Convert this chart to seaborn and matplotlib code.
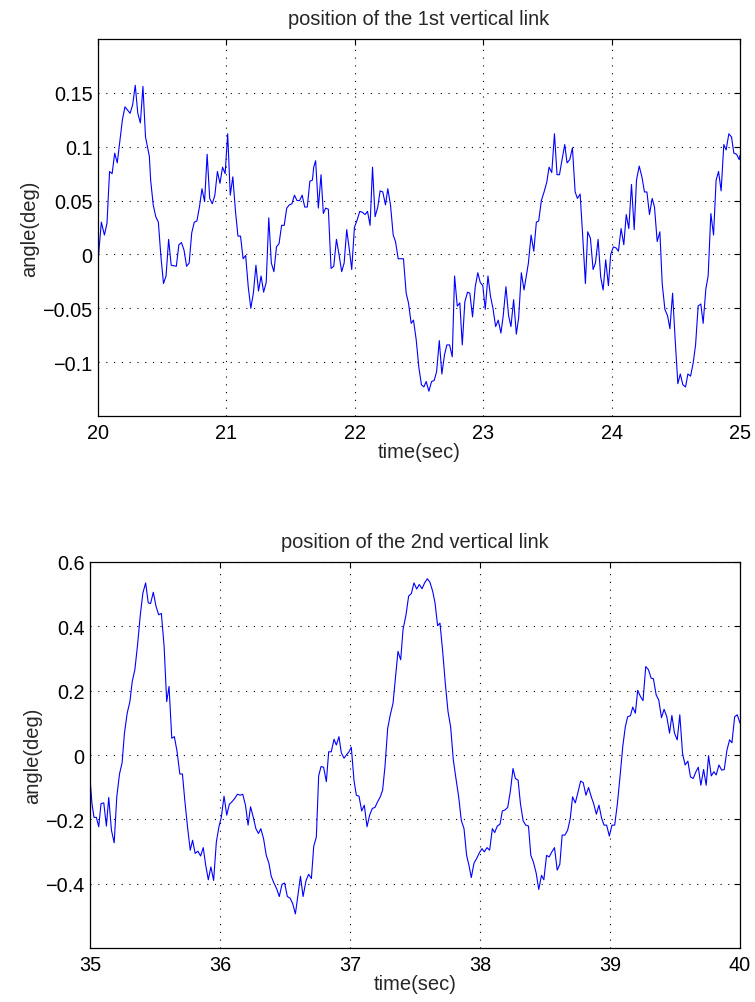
import numpy as np
import pandas as pd
import matplotlib
matplotlib.use("Agg")
import matplotlib.pyplot as plt
import seaborn as sns

# ---- data: link 1 (time in sec, angle) ----
t1 = [20.0, 20.026, 20.05, 20.07, 20.09, 20.11, 20.13, 20.15, 20.17, 20.19, 20.21, 20.25, 20.27, 20.29,
      20.31, 20.33, 20.35, 20.37, 20.40, 20.41, 20.43, 20.45, 20.47, 20.49, 20.51, 20.53, 20.55, 20.57,
      20.61, 20.63, 20.65, 20.67, 20.69, 20.71, 20.73, 20.75, 20.77, 20.79, 20.81, 20.83, 20.85, 20.87,
      20.89, 20.91, 20.93, 20.95, 20.97, 20.99, 21.01, 21.03, 21.05, 21.07, 21.09, 21.11, 21.13, 21.15,
      21.17, 21.19, 21.21, 21.23, 21.25, 21.27, 21.29, 21.31, 21.33, 21.35, 21.37, 21.39, 21.41, 21.43,
      21.45, 21.47, 21.49, 21.51, 21.53, 21.55, 21.57, 21.59, 21.61, 21.63, 21.65, 21.67, 21.68,
      21.695, 21.716, 21.737, 21.755, 21.773, 21.794, 21.815, 21.836, 21.857, 21.877, 21.898, 21.917,
      21.937, 21.958, 21.976, 21.997, 22.018, 22.039, 22.060, 22.080, 22.099, 22.119, 22.138, 22.158,
      22.179, 22.197, 22.218, 22.239, 22.257, 22.278, 22.299, 22.317, 22.338, 22.359, 22.379, 22.400,
      22.418, 22.439, 22.457, 22.478, 22.499, 22.519, 22.538, 22.556, 22.577, 22.598, 22.618, 22.637,
      22.658, 22.678, 22.699, 22.717, 22.738, 22.759, 22.777, 22.798, 22.818, 22.837, 22.857, 22.878,
      22.896, 22.917, 22.938, 22.958, 22.977, 22.997, 23.016, 23.037, 23.057, 23.076, 23.097, 23.117,
      23.138, 23.156, 23.177, 23.198, 23.216, 23.237, 23.258, 23.276, 23.297, 23.318,
      23.352, 23.373, 23.394, 23.414, 23.432, 23.453, 23.474, 23.495, 23.513, 23.534, 23.555, 23.575,
      23.594, 23.614, 23.635, 23.653, 23.674, 23.695, 23.716, 23.734, 23.755, 23.775, 23.796, 23.814,
      23.835, 23.856, 23.874, 23.895, 23.915, 23.934, 23.954, 23.975, 23.993, 24.014, 24.035, 24.053,
      24.074, 24.095, 24.114, 24.134, 24.155, 24.176, 24.194, 24.215, 24.236, 24.256, 24.275, 24.295,
      24.316, 24.334, 24.355, 24.376, 24.394, 24.415, 24.436, 24.454, 24.475, 24.495, 24.516, 24.535,
      24.555, 24.576, 24.594, 24.615, 24.635, 24.654, 24.674, 24.695, 24.713, 24.734, 24.752, 24.773,
      24.794, 24.814, 24.833, 24.853, 24.874, 24.892, 24.913, 24.934, 24.952, 24.973, 24.994, 25.0]
a1 = [-0.0065, 0.030, 0.018, 0.029, 0.077, 0.075, 0.094, 0.085, 0.105, 0.125, 0.137, 0.131, 0.139, 0.157,
      0.131, 0.122, 0.156, 0.109, 0.091, 0.069, 0.046, 0.035, 0.030, -0.002, -0.027, -0.020, 0.014, -0.010,
      -0.011, 0.009, 0.011, 0.004, -0.011, -0.008, 0.020, 0.030, 0.031, 0.044, 0.061, 0.049, 0.093, 0.052,
      0.047, 0.055, 0.077, 0.066, 0.081, 0.075, 0.112, 0.055, 0.072, 0.041, 0.017, 0.017, -0.004, -0.001,
      -0.030, -0.050, -0.036, -0.010, -0.034, -0.020, -0.035, -0.026, 0.034, -0.008, -0.016, 0.007, 0.010, 0.027,
      0.027, 0.043, 0.046, 0.047, 0.055, 0.050, 0.050, 0.055, 0.044, 0.044, 0.068, 0.069, 0.081,
      0.087, 0.043, 0.074, 0.038, 0.043, 0.042, -0.013, -0.011, 0.014, 0.000, -0.016, -0.008,
      0.023, 0.004, -0.014, 0.025, 0.032, 0.040, 0.039, 0.037, 0.040, 0.027, 0.081, 0.035,
      0.044, 0.059, 0.058, 0.046, 0.061, 0.046, 0.018, 0.012, -0.004, -0.004, -0.004, -0.036,
      -0.045, -0.064, -0.061, -0.079, -0.105, -0.121, -0.123, -0.118, -0.127, -0.118, -0.117, -0.109,
      -0.080, -0.111, -0.093, -0.084, -0.084, -0.095, -0.020, -0.048, -0.045, -0.084, -0.044, -0.035,
      -0.036, -0.058, -0.030, -0.017, -0.026, -0.029, -0.051, -0.020, -0.039, -0.050, -0.067, -0.061,
      -0.073, -0.057, -0.030, -0.057, -0.067, -0.042, -0.074, -0.059, -0.017, -0.033,
      -0.008, 0.018, 0.003, 0.030, 0.031, 0.050, 0.058, 0.067, 0.081, 0.076, 0.112, 0.074,
      0.074, 0.088, 0.102, 0.085, 0.088, 0.099, 0.058, 0.052, 0.056, 0.017, -0.027, 0.021,
      0.015, -0.014, -0.008, 0.014, -0.021, -0.033, -0.005, -0.029, 0.000, 0.007, 0.006, 0.003,
      0.024, 0.009, 0.037, 0.024, 0.065, 0.023, 0.069, 0.082, 0.072, 0.058, 0.058, 0.037,
      0.052, 0.044, 0.012, 0.021, -0.027, -0.051, -0.057, -0.069, -0.036, -0.079, -0.120, -0.111,
      -0.121, -0.123, -0.111, -0.113, -0.101, -0.084, -0.048, -0.046, -0.064, -0.032, -0.020, 0.038,
      0.018, 0.069, 0.077, 0.059, 0.102, 0.097, 0.112, 0.109, 0.094, 0.093, 0.088, 0.092]

# ---- data: link 2 ----
t2 = [35.0, 35.015, 35.031, 35.049, 35.067, 35.085, 35.106, 35.126, 35.144, 35.165, 35.186, 35.206, 35.227,
      35.247, 35.265, 35.286, 35.307, 35.325, 35.345, 35.366, 35.387, 35.407, 35.428, 35.448, 35.466,
      35.487, 35.508, 35.528, 35.549, 35.570, 35.590, 35.608, 35.629, 35.649, 35.670, 35.691, 35.711,
      35.729, 35.750, 35.771, 35.789, 35.809, 35.830, 35.851, 35.871, 35.889, 35.910, 35.930, 35.951,
      35.972, 35.992, 36.010, 36.031, 36.052, 36.072, 36.093, 36.113, 36.134, 36.155, 36.175, 36.196,
      36.216, 36.235, 36.255, 36.276, 36.296, 36.314, 36.335, 36.356, 36.376, 36.394, 36.415, 36.436,
      36.456, 36.477, 36.497, 36.518, 36.539, 36.559, 36.580, 36.598, 36.619, 36.639,
      36.662, 36.682, 36.703, 36.721, 36.741, 36.759, 36.777, 36.797, 36.818, 36.836, 36.856, 36.877,
      36.895, 36.915, 36.933, 36.954, 36.972, 36.992, 37.010, 37.031, 37.049, 37.069, 37.090, 37.110,
      37.131, 37.151, 37.172, 37.192, 37.213, 37.233, 37.251, 37.269, 37.290, 37.310, 37.331, 37.349,
      37.369, 37.390, 37.408, 37.431, 37.451, 37.472, 37.492, 37.513, 37.533, 37.554, 37.574, 37.595,
      37.615, 37.636, 37.654, 37.674, 37.692, 37.713, 37.733, 37.754, 37.774, 37.795, 37.815, 37.836,
      37.856, 37.877, 37.897, 37.915, 37.933, 37.954, 37.974, 37.995, 38.015, 38.033, 38.054, 38.074,
      38.095, 38.113, 38.133, 38.154, 38.172, 38.192, 38.213, 38.233, 38.254,
      38.272, 38.293, 38.311, 38.332, 38.352, 38.373, 38.391, 38.411, 38.432, 38.452, 38.473, 38.491,
      38.512, 38.532, 38.553, 38.573, 38.594, 38.614, 38.632, 38.653, 38.674, 38.694, 38.712, 38.733,
      38.753, 38.774, 38.794, 38.815, 38.835, 38.856, 38.874, 38.895, 38.915, 38.936, 38.954, 38.974,
      38.995, 39.015, 39.036, 39.057, 39.077, 39.098, 39.118, 39.136, 39.157, 39.175, 39.195, 39.213,
      39.234, 39.254, 39.275, 39.296, 39.316, 39.334, 39.355, 39.375, 39.396, 39.416, 39.437, 39.458,
      39.476, 39.496, 39.517, 39.537, 39.558, 39.578, 39.599, 39.619, 39.640, 39.661, 39.679, 39.699,
      39.720, 39.740, 39.758, 39.779, 39.799, 39.817, 39.838, 39.859, 39.879, 39.900, 39.920, 39.938,
      39.959, 39.979, 40.0]
a2 = [-0.073, -0.151, -0.194, -0.194, -0.223, -0.151, -0.149, -0.221, -0.132, -0.234, -0.273, -0.130, -0.059,
      -0.024, 0.068, 0.130, 0.166, 0.229, 0.265, 0.343, 0.436, 0.504, 0.535, 0.473, 0.471,
      0.506, 0.462, 0.436, 0.440, 0.338, 0.166, 0.213, 0.052, 0.057, 0.010, -0.059, -0.059,
      -0.140, -0.223, -0.296, -0.265, -0.306, -0.299, -0.314, -0.288, -0.340, -0.388, -0.348, -0.390,
      -0.270, -0.223, -0.194, -0.128, -0.187, -0.153, -0.145, -0.135, -0.122, -0.125, -0.122, -0.156,
      -0.218, -0.161, -0.192, -0.229, -0.244, -0.229, -0.260, -0.312, -0.336, -0.377, -0.398, -0.416,
      -0.440, -0.402, -0.398, -0.440, -0.445, -0.462, -0.494, -0.440, -0.377, -0.440,
      -0.390, -0.371, -0.384, -0.284, -0.255, -0.065, -0.036, -0.038, -0.083, 0.010, 0.010, 0.049,
      0.031, 0.057, 0.007, -0.010, 0.000, 0.010, 0.024, -0.080, -0.125, -0.128, -0.174, -0.156,
      -0.223, -0.187, -0.166, -0.163, -0.145, -0.130, -0.109, -0.036, 0.083, 0.125, 0.161, 0.239,
      0.322, 0.296, 0.390, 0.436, 0.494, 0.502, 0.535, 0.516, 0.530, 0.517, 0.535, 0.548,
      0.537, 0.509, 0.473, 0.402, 0.410, 0.322, 0.223, 0.135, 0.088, -0.016, -0.073, -0.130,
      -0.203, -0.229, -0.312, -0.343, -0.381, -0.336, -0.322, -0.304, -0.291, -0.301, -0.288, -0.296,
      -0.229, -0.241, -0.221, -0.215, -0.174, -0.171, -0.163, -0.114, -0.042,
      -0.073, -0.078, -0.151, -0.205, -0.218, -0.221, -0.312, -0.333, -0.367, -0.418, -0.374, -0.388,
      -0.312, -0.317, -0.301, -0.288, -0.358, -0.340, -0.249, -0.249, -0.234, -0.198, -0.130, -0.149,
      -0.117, -0.081, -0.086, -0.125, -0.101, -0.130, -0.151, -0.184, -0.156, -0.197, -0.218, -0.218,
      -0.252, -0.218, -0.218, -0.151, -0.068, 0.026, 0.088, 0.119, 0.122, 0.149, 0.130, 0.201,
      0.182, 0.169, 0.275, 0.265, 0.239, 0.237, 0.187, 0.171, 0.116, 0.142, 0.119, 0.068,
      0.123, 0.068, 0.047, 0.125, 0.005, -0.031, -0.019, -0.068, -0.073, -0.052, -0.038, -0.094,
      -0.045, -0.094, -0.002, -0.065, -0.052, -0.062, -0.031, -0.047, -0.045, 0.016, 0.047, 0.038,
      0.119, 0.125, 0.099]

titles = ["position of the 1st vertical link", "position of the 2nd vertical link"]
xticks1 = [20, 21, 22, 23, 24, 25]
yticks1 = [-0.1, -0.05, 0, 0.05, 0.1, 0.15]
yticklabels1 = ["\u22120.1", "\u22120.05", "0", "0.05", "0.1", "0.15"]
xticks2 = [35, 36, 37, 38, 39, 40]
yticks2 = [-0.4, -0.2, 0, 0.2, 0.4, 0.6]
yticklabels2 = ["\u22120.4", "\u22120.2", "0", "0.2", "0.4", "0.6"]

sns.set_style("white")
plt.rcParams['font.family'] = ['Liberation Sans', 'DejaVu Sans']

fig = plt.figure(figsize=(7.55, 10.03), dpi=100)
ax1 = fig.add_axes([98/755, 1-417/1003, 642/755, 377/1003])
ax2 = fig.add_axes([90/755, 1-949/1003, 650/755, 386/1003])

df1 = pd.DataFrame({"t": t1, "a": a1})
df2 = pd.DataFrame({"t": t2, "a": a2})

specs = [
    (ax1, df1, titles[0], xticks1, (20, 25), yticks1, yticklabels1, (-0.15, 0.2)),
    (ax2, df2, titles[1], xticks2, (35, 40), yticks2, yticklabels2, (-0.6, 0.6)),
]
for ax, df, title, xt, xl, yt, ytl, yl in specs:
    sns.lineplot(data=df, x="t", y="a", ax=ax, color=(0, 0, 1), linewidth=0.8, estimator=None, sort=False)
    ax.set_xlim(*xl)
    ax.set_ylim(*yl)
    ax.set_xticks(xt)
    ax.set_xticklabels([str(v) for v in xt])
    ax.set_yticks(yt)
    ax.set_yticklabels(ytl)
    ax.grid(True, color="black", linestyle=(0, (1, 6)), linewidth=0.8)
    ax.tick_params(direction="in", length=4, width=0.8, top=True, right=True,
                   labelsize=14.3, colors="black")
    ax.tick_params(axis="x", pad=5)
    ax.tick_params(axis="y", pad=4)
    for s in ax.spines.values():
        s.set_visible(True)
        s.set_color("black")
        s.set_linewidth(0.9)
    ax.set_title(title, fontsize=14.4, pad=11)
    ax.set_xlabel("time(sec)", fontsize=14.5, labelpad=0)
    ax.set_ylabel("angle(deg)", fontsize=14.5, labelpad=2)

fig.savefig("out.png", dpi=100)
